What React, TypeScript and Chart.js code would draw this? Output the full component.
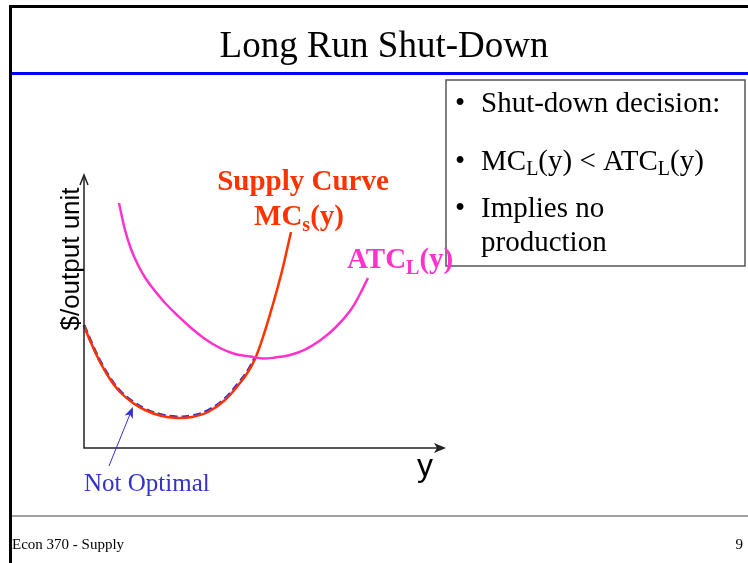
import React, { useEffect, useRef } from "react";
import { Chart, registerables } from "chart.js";

Chart.register(...registerables);

// Output (y) values and $/output-unit values
const mcX = [0, 0.221, 0.442, 0.718, 0.994, 1.354, 1.685, 2.099, 2.569, 2.983, 3.425, 3.895, 4.309, 4.53, 4.724, 4.972, 5.221, 5.47, 5.718];
const mcY = [4.469, 3.773, 3.15, 2.527, 2.051, 1.648, 1.392, 1.19, 1.099, 1.136, 1.319, 1.758, 2.381, 2.784, 3.26, 4.176, 5.275, 6.484, 7.912];

const atcX = [0.967, 1.133, 1.298, 1.492, 1.713, 1.961, 2.099, 2.238, 2.569, 2.928, 3.343, 3.757, 4.171, 4.586, 4.945, 5.276, 5.691, 6.105, 6.519, 6.934, 7.348, 7.624, 7.845];
const atcY = [8.974, 7.985, 7.289, 6.703, 6.19, 5.751, 5.531, 5.311, 4.872, 4.432, 3.993, 3.663, 3.443, 3.352, 3.278, 3.315, 3.407, 3.608, 3.938, 4.396, 5.018, 5.641, 6.227];

const notOptX = [0, 0.221, 0.442, 0.718, 0.994, 1.354, 1.685, 2.099, 2.569, 2.983, 3.425, 3.895, 4.309, 4.53, 4.724];
const notOptY = [4.5, 3.81, 3.19, 2.57, 2.09, 1.69, 1.43, 1.23, 1.14, 1.18, 1.37, 1.81, 2.44, 2.84, 3.31];

const arrowFrom = [0.69, -0.66];
const arrowTo = [1.35, 1.5];

const titleText = "Long Run Shut-Down";
const footerLeft = "Econ 370 - Supply";
const footerRight = "9";

const toPts = (xs: number[], ys: number[]) => xs.map((x, i) => ({ x, y: ys[i] }));

type Seg = { t: string; sub?: boolean };

function drawSegs(ctx: CanvasRenderingContext2D, segs: Seg[], x: number, y: number, font: string, subFont: string, subDy: number, align: "left" | "center" = "left") {
  ctx.textAlign = "left";
  let total = 0;
  for (const s of segs) {
    ctx.font = s.sub ? subFont : font;
    total += ctx.measureText(s.t).width;
  }
  let cx = align === "center" ? x - total / 2 : x;
  for (const s of segs) {
    ctx.font = s.sub ? subFont : font;
    ctx.fillText(s.t, cx, s.sub ? y + subDy : y);
    cx += ctx.measureText(s.t).width;
  }
}

const slidePlugin = {
  id: "slide",
  afterDraw(chart: any) {
    const ctx: CanvasRenderingContext2D = chart.ctx;
    const xs = chart.scales.x;
    const ys = chart.scales.y;
    const ca = chart.chartArea;
    ctx.save();
    ctx.textBaseline = "alphabetic";

    // slide frame
    ctx.fillStyle = "#000";
    ctx.fillRect(9, 5, 3, 558);
    ctx.fillRect(9, 5, 739, 3);
    ctx.fillStyle = "#0000ff";
    ctx.fillRect(12, 72, 736, 3);
    ctx.fillStyle = "#a0a0a0";
    ctx.fillRect(12, 515, 736, 2);

    // title
    ctx.fillStyle = "#000";
    ctx.font = "37px 'Liberation Serif'";
    ctx.textAlign = "center";
    ctx.fillText(titleText, 384, 57);

    // footer
    ctx.font = "15px 'Liberation Serif'";
    ctx.textAlign = "left";
    ctx.fillText(footerLeft, 12, 549);
    ctx.textAlign = "right";
    ctx.fillText(footerRight, 743, 549);

    // axes
    ctx.strokeStyle = "#222";
    ctx.lineWidth = 1.5;
    ctx.beginPath();
    ctx.moveTo(ca.left, ca.top + 1);
    ctx.lineTo(ca.left, ca.bottom);
    ctx.lineTo(ca.right - 2, ca.bottom);
    ctx.stroke();
    ctx.fillStyle = "#222";
    // x arrow
    ctx.beginPath();
    ctx.moveTo(ca.right, ca.bottom);
    ctx.lineTo(ca.right - 12, ca.bottom - 5);
    ctx.lineTo(ca.right - 9, ca.bottom);
    ctx.lineTo(ca.right - 12, ca.bottom + 5);
    ctx.closePath();
    ctx.fill();
    // y arrow (open chevron)
    ctx.lineWidth = 1.5;
    ctx.beginPath();
    ctx.moveTo(ca.left - 4, ca.top + 10);
    ctx.lineTo(ca.left, ca.top);
    ctx.lineTo(ca.left + 4, ca.top + 10);
    ctx.stroke();

    // axis labels
    ctx.fillStyle = "#000";
    ctx.save();
    ctx.translate(79, 259);
    ctx.rotate(-Math.PI / 2);
    ctx.font = "26px 'Liberation Sans'";
    ctx.textAlign = "center";
    ctx.fillText("$/output unit", 0, 0);
    ctx.restore();
    ctx.font = "32px 'Liberation Sans'";
    ctx.textAlign = "center";
    ctx.fillText("y", 425, 476);

    // text box
    ctx.fillStyle = "#fff";
    ctx.fillRect(446, 80, 299, 186);
    ctx.strokeStyle = "#555";
    ctx.lineWidth = 1.5;
    ctx.strokeRect(446, 80, 299, 186);
    ctx.fillStyle = "#000";
    const f = "29px 'Liberation Serif'";
    const fs = "20px 'Liberation Serif'";
    ctx.font = f;
    ctx.textAlign = "left";
    ctx.fillText("\u2022", 455, 112);
    ctx.fillText("Shut-down decision:", 481, 112);
    ctx.fillText("\u2022", 455, 170);
    drawSegs(ctx, [{ t: "MC" }, { t: "L", sub: true }, { t: "(y) < ATC" }, { t: "L", sub: true }, { t: "(y)" }], 481, 170, f, fs, 5);
    ctx.font = f;
    ctx.fillText("\u2022", 455, 217);
    ctx.fillText("Implies no", 481, 217);
    ctx.fillText("production", 481, 251);

    // curve labels
    ctx.fillStyle = "#ff3300";
    ctx.font = "bold 29px 'Liberation Serif'";
    ctx.textAlign = "center";
    ctx.fillText("Supply Curve", 303, 190);
    drawSegs(ctx, [{ t: "MC" }, { t: "s", sub: true }, { t: "(y)" }], 299, 225, "bold 29px 'Liberation Serif'", "bold 20px 'Liberation Serif'", 6, "center");
    ctx.fillStyle = "#ff33cc";
    drawSegs(ctx, [{ t: "ATC" }, { t: "L", sub: true }, { t: "(y)" }], 347, 268, "bold 29px 'Liberation Serif'", "bold 20px 'Liberation Serif'", 6, "left");

    // not optimal note
    const ax0 = xs.getPixelForValue(arrowFrom[0]);
    const ay0 = ys.getPixelForValue(arrowFrom[1]);
    const ax1 = xs.getPixelForValue(arrowTo[0]);
    const ay1 = ys.getPixelForValue(arrowTo[1]);
    const ang = Math.atan2(ay1 - ay0, ax1 - ax0);
    ctx.strokeStyle = "#3333cc";
    ctx.fillStyle = "#3333cc";
    ctx.lineWidth = 1;
    ctx.beginPath();
    ctx.moveTo(ax0, ay0);
    ctx.lineTo(ax1 - 6 * Math.cos(ang), ay1 - 6 * Math.sin(ang));
    ctx.stroke();
    ctx.beginPath();
    ctx.moveTo(ax1, ay1);
    ctx.lineTo(ax1 - 11 * Math.cos(ang) + 4.5 * Math.sin(ang), ay1 - 11 * Math.sin(ang) - 4.5 * Math.cos(ang));
    ctx.lineTo(ax1 - 8 * Math.cos(ang), ay1 - 8 * Math.sin(ang));
    ctx.lineTo(ax1 - 11 * Math.cos(ang) - 4.5 * Math.sin(ang), ay1 - 11 * Math.sin(ang) + 4.5 * Math.cos(ang));
    ctx.closePath();
    ctx.fill();
    ctx.font = "25px 'Liberation Serif'";
    ctx.textAlign = "left";
    ctx.fillText("Not Optimal", 84, 491);

    ctx.restore();
  },
};

export default function App() {
  const ref = useRef<HTMLCanvasElement | null>(null);
  useEffect(() => {
    if (!ref.current) return;
    const common = {
      showLine: true,
      pointRadius: 0,
      tension: 0.4,
      clip: false,
    };
    const chart = new Chart(ref.current, {
      type: "scatter",
      data: {
        datasets: [
          { ...common, label: "ATC", data: toPts(atcX, atcY), borderColor: "#ff33cc", borderWidth: 2.5 } as any,
          { ...common, label: "MC", data: toPts(mcX, mcY), borderColor: "#ff3300", borderWidth: 2.5 } as any,
          { ...common, label: "Not optimal", data: toPts(notOptX, notOptY), borderColor: "#3333cc", borderWidth: 3, borderDash: [8, 4] } as any,
        ],
      },
      options: {
        responsive: false,
        animation: false,
        devicePixelRatio: 1,
        layout: { padding: { left: 84, right: 302, top: 175, bottom: 115 } },
        plugins: { legend: { display: false }, tooltip: { enabled: false } },
        scales: {
          x: { type: "linear", min: 0, max: 10, display: false },
          y: { type: "linear", min: 0, max: 10, display: false },
        },
      },
      plugins: [slidePlugin],
    });
    return () => chart.destroy();
  }, []);
  return (
    <div style={{ position: "fixed", left: 0, top: 0, width: 748, height: 563, background: "#fff" }}>
      <canvas ref={ref} width={748} height={563} style={{ width: 748, height: 563, display: "block" }} />
    </div>
  );
}
